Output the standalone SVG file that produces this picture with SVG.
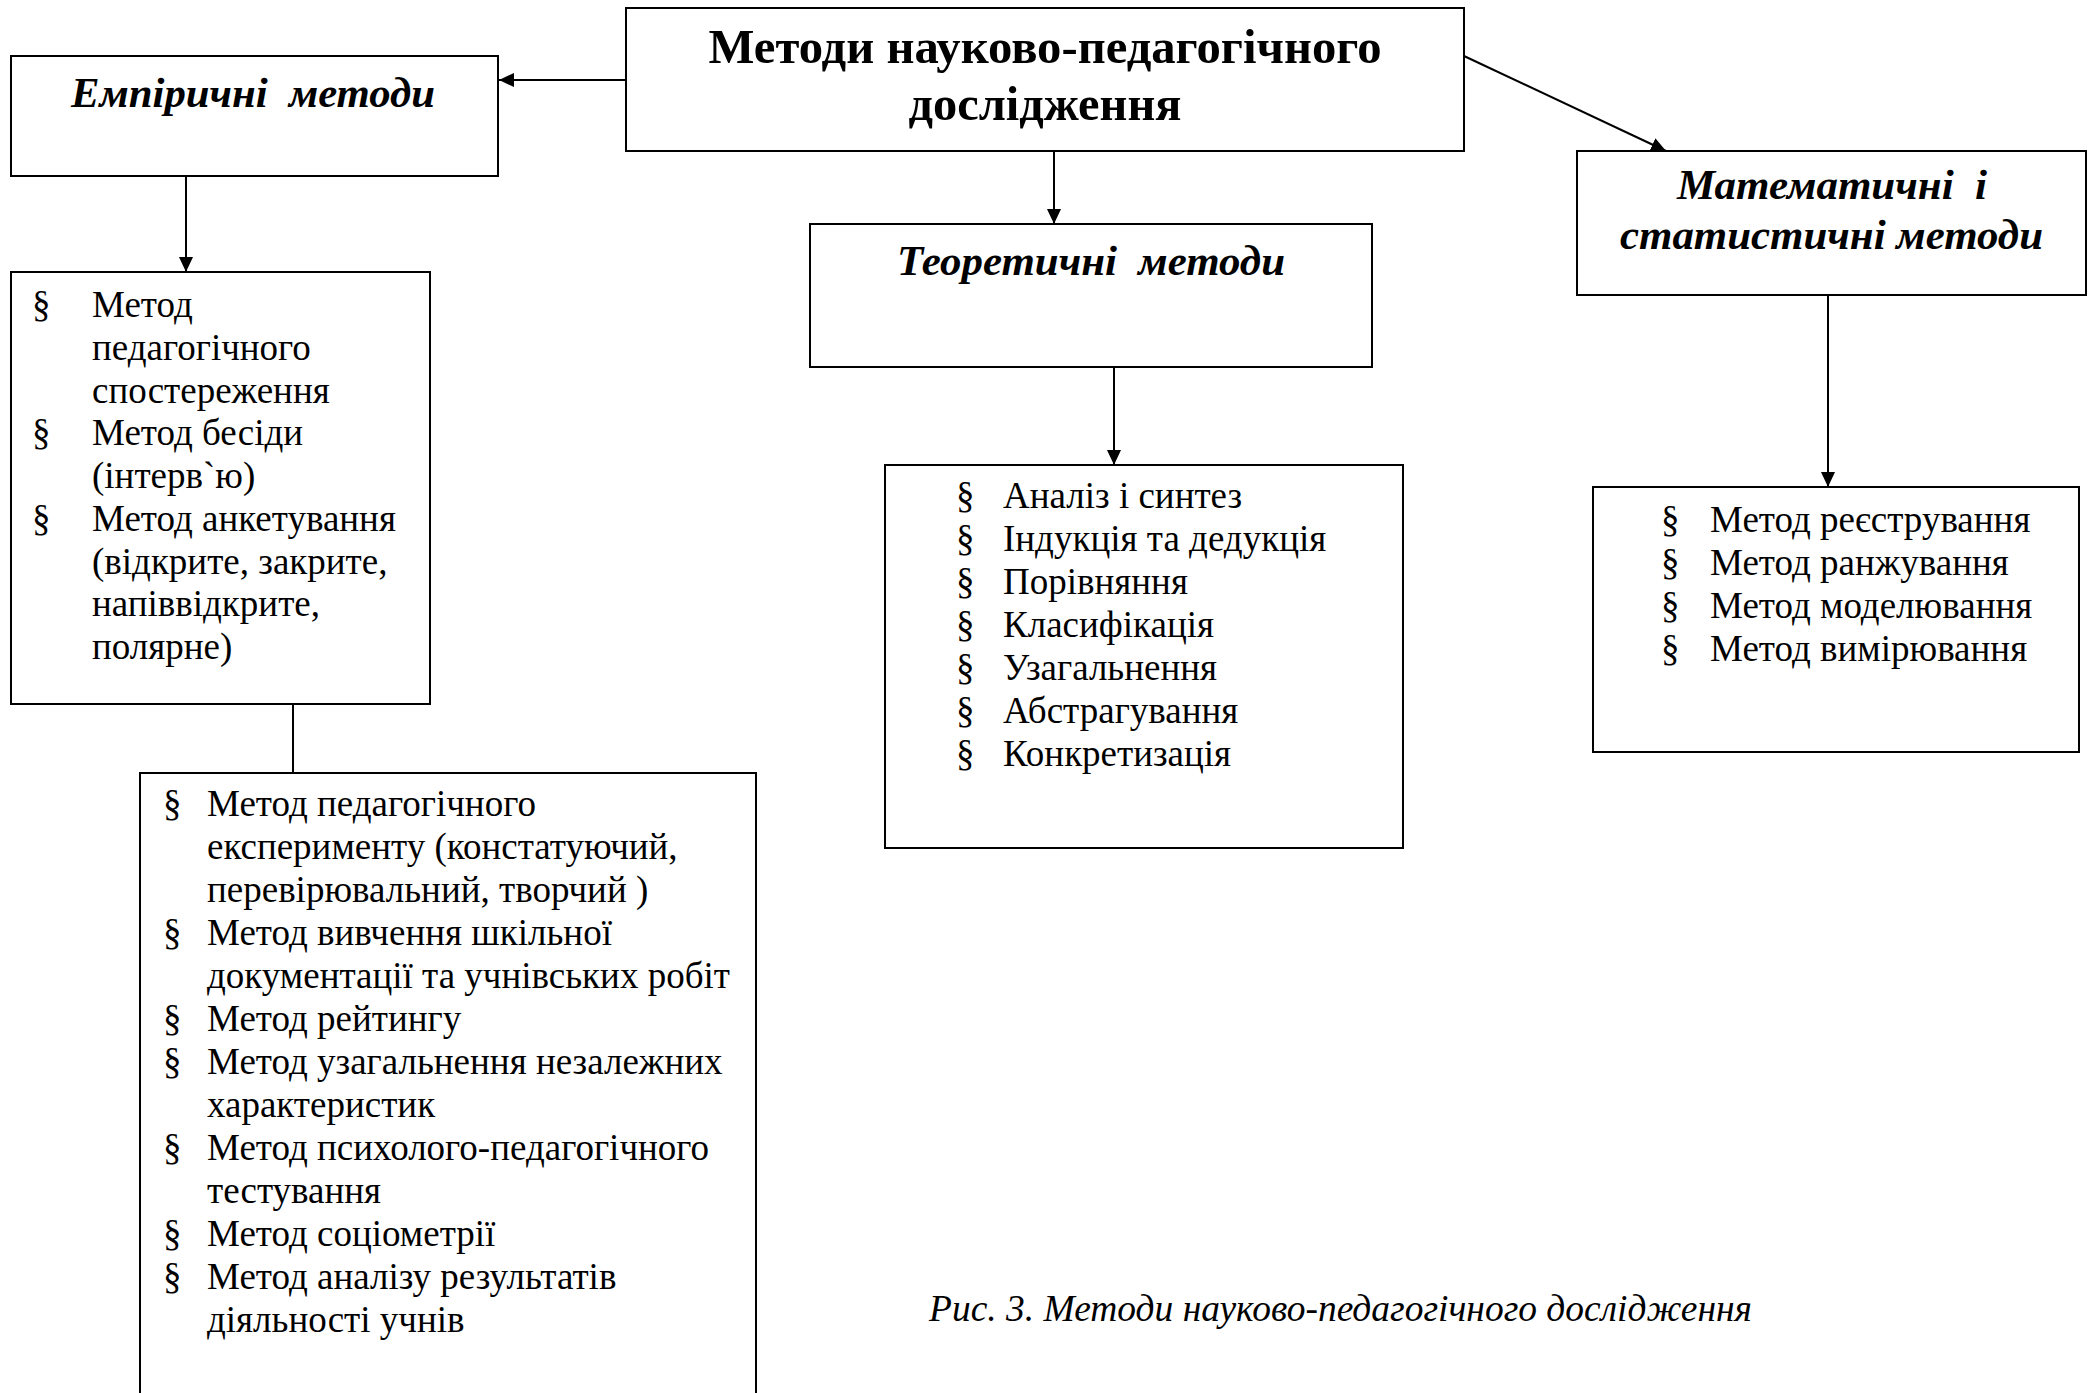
<svg xmlns="http://www.w3.org/2000/svg" width="2094" height="1393" viewBox="0 0 2094 1393">
<style>
.box{fill:#fff;stroke:#000;stroke-width:2}
.ln{stroke:#000;stroke-width:2;fill:none}
.t{font-family:"Liberation Serif","Times New Roman",serif;fill:#000}
.title{font-size:48px;font-weight:bold}
.hdr{font-size:42px;font-weight:bold;font-style:italic;white-space:pre}
.li{font-size:37px}
.cap{font-size:37px;font-style:italic}
</style>
<defs>
<marker id="ah" markerUnits="userSpaceOnUse" markerWidth="15" markerHeight="14" refX="15" refY="7" orient="auto">
<path d="M0,0 L15,7 L0,14 Z" fill="#000"/>
</marker>
</defs>
<rect width="2094" height="1393" fill="#fff"/>
<g id="connectors">
<line class="ln" x1="626" y1="80" x2="499" y2="80" marker-end="url(#ah)"/>
<line class="ln" x1="186" y1="176" x2="186" y2="272" marker-end="url(#ah)"/>
<line class="ln" x1="293" y1="704" x2="293" y2="790"/>
<line class="ln" x1="1054" y1="151" x2="1054" y2="224" marker-end="url(#ah)"/>
<line class="ln" x1="1114" y1="367" x2="1114" y2="465" marker-end="url(#ah)"/>
<line class="ln" x1="1464" y1="56" x2="1666" y2="151" marker-end="url(#ah)"/>
<line class="ln" x1="1828" y1="295" x2="1828" y2="487" marker-end="url(#ah)"/>
</g>
<g id="main">
<rect class="box" x="626" y="8" width="838" height="143"/>
<text class="t title" x="1045" y="63" text-anchor="middle" textLength="673" lengthAdjust="spacingAndGlyphs">Методи науково-педагогічного</text>
<text class="t title" x="1045" y="120" text-anchor="middle" textLength="273" lengthAdjust="spacingAndGlyphs">дослідження</text>
</g>
<g id="empirical">
<rect class="box" x="11" y="56" width="487" height="120"/>
<text class="t hdr" x="71" y="107" textLength="364" lengthAdjust="spacingAndGlyphs" xml:space="preserve">Емпіричні  методи</text>
</g>
<g id="empirical-list">
<rect class="box" x="11" y="272" width="419" height="432"/>
<g class="t li">
<text x="32" y="317">§</text><text x="92" y="317">Метод</text>
<text x="92" y="360">педагогічного</text>
<text x="92" y="403">спостереження</text>
<text x="32" y="445">§</text><text x="92" y="445">Метод бесіди</text>
<text x="92" y="488">(інтерв`ю)</text>
<text x="32" y="531">§</text><text x="92" y="531">Метод анкетування</text>
<text x="92" y="574">(відкрите, закрите,</text>
<text x="92" y="616">напіввідкрите,</text>
<text x="92" y="659">полярне)</text>
</g>
</g>
<g id="empirical-list-2">
<rect class="box" x="140" y="773" width="616" height="640"/>
<g class="t li">
<text x="163" y="816">§</text><text x="207" y="816">Метод педагогічного</text>
<text x="207" y="859">експерименту (констатуючий,</text>
<text x="207" y="902">перевірювальний, творчий )</text>
<text x="163" y="945">§</text><text x="207" y="945">Метод вивчення шкільної</text>
<text x="207" y="988">документації та учнівських робіт</text>
<text x="163" y="1031">§</text><text x="207" y="1031">Метод рейтингу</text>
<text x="163" y="1074">§</text><text x="207" y="1074">Метод узагальнення незалежних</text>
<text x="207" y="1117">характеристик</text>
<text x="163" y="1160">§</text><text x="207" y="1160">Метод психолого-педагогічного</text>
<text x="207" y="1203">тестування</text>
<text x="163" y="1246">§</text><text x="207" y="1246">Метод соціометрії</text>
<text x="163" y="1289">§</text><text x="207" y="1289">Метод аналізу результатів</text>
<text x="207" y="1332">діяльності учнів</text>
</g>
</g>
<g id="theoretical">
<rect class="box" x="810" y="224" width="562" height="143"/>
<text class="t hdr" x="897" y="275" textLength="388" lengthAdjust="spacingAndGlyphs" xml:space="preserve">Теоретичні  методи</text>
</g>
<g id="theoretical-list">
<rect class="box" x="885" y="465" width="518" height="383"/>
<g class="t li">
<text x="956" y="508">§</text><text x="1003" y="508">Аналіз і синтез</text>
<text x="956" y="551">§</text><text x="1003" y="551">Індукція та дедукція</text>
<text x="956" y="594">§</text><text x="1003" y="594">Порівняння</text>
<text x="956" y="637">§</text><text x="1003" y="637">Класифікація</text>
<text x="956" y="680">§</text><text x="1003" y="680">Узагальнення</text>
<text x="956" y="723">§</text><text x="1003" y="723">Абстрагування</text>
<text x="956" y="766">§</text><text x="1003" y="766">Конкретизація</text>
</g>
</g>
<g id="math">
<rect class="box" x="1577" y="151" width="509" height="144"/>
<text class="t hdr" x="1677" y="199" textLength="310" lengthAdjust="spacingAndGlyphs" xml:space="preserve">Математичні  і</text>
<text class="t hdr" x="1620" y="249" textLength="423" lengthAdjust="spacingAndGlyphs">статистичні методи</text>
</g>
<g id="math-list">
<rect class="box" x="1593" y="487" width="486" height="265"/>
<g class="t li">
<text x="1661" y="532">§</text><text x="1710" y="532">Метод реєстрування</text>
<text x="1661" y="575">§</text><text x="1710" y="575">Метод ранжування</text>
<text x="1661" y="618">§</text><text x="1710" y="618">Метод моделювання</text>
<text x="1661" y="661">§</text><text x="1710" y="661">Метод вимірювання</text>
</g>
</g>
<g id="caption">
<text class="t cap" x="929" y="1321" textLength="823" lengthAdjust="spacingAndGlyphs">Рис. 3. Методи науково-педагогічного дослідження</text>
</g>
</svg>
